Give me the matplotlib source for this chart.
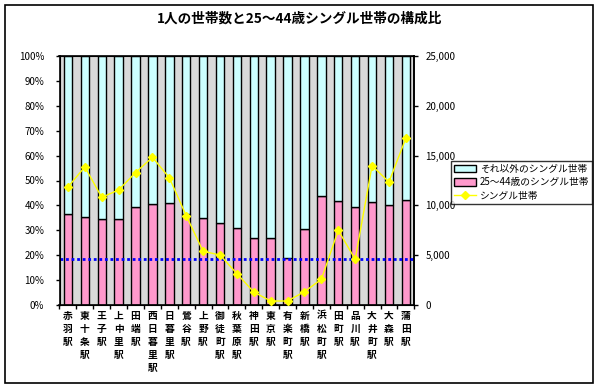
import numpy as np
import matplotlib
matplotlib.use("Agg")
import matplotlib.pyplot as plt
from matplotlib.patches import Rectangle, Patch
from matplotlib.lines import Line2D
from matplotlib.ticker import FuncFormatter, FixedLocator

plt.rcParams['font.family'] = ['Noto Sans CJK JP', 'DejaVu Sans']

stations = ["赤羽駅", "東十条駅", "王子駅", "上中里駅", "田端駅", "西日暮里駅", "日暮里駅",
            "鶯谷駅", "上野駅", "御徒町駅", "秋葉原駅", "神田駅", "東京駅", "有楽町駅",
            "新橋駅", "浜松町駅", "田町駅", "品川駅", "大井町駅", "大森駅", "蒲田駅"]
# share of 25-44 singles (%)
share_2544 = [36.5, 35.2, 34.4, 34.4, 39.2, 40.4, 40.8, 36.5, 34.8, 32.8, 30.8,
              26.8, 26.8, 18.7, 30.4, 43.8, 41.6, 39.2, 41.2, 40.2, 42.0]
# single households (count, right axis)
singles = [11850, 13860, 10810, 11550, 13290, 14830, 12780, 8970, 5390, 5020, 3150,
           1300, 400, 400, 1340, 2580, 7500, 4590, 13990, 12350, 16740]
avg_line = 18.5

PINK = '#FF99CC'
CYAN = '#CCFFFF'

W, H = 599, 387
fig = plt.figure(figsize=(W / 100, H / 100), dpi=100)
fig.patches.append(Rectangle((5 / W, 1 - 383 / H), 588 / W, 378 / H, transform=fig.transFigure,
                             fill=False, edgecolor='black', linewidth=1.2))

ax = fig.add_axes([59.5 / W, 1 - 305 / H, 354.8 / W, 249 / H])
ax.set_facecolor('#d9d9d9')
x = np.arange(len(stations))
rest = [100 - v for v in share_2544]
ax.bar(x, share_2544, width=0.5, color=PINK, edgecolor='black', linewidth=1, zorder=2)
ax.bar(x, rest, width=0.5, bottom=share_2544, color=CYAN, edgecolor='black', linewidth=1, zorder=2)
ax.axhline(avg_line, color='#0000FF', linewidth=2, linestyle=(0, (1, 1)), zorder=4)
ax.set_xlim(-0.5, len(stations) - 0.5)
ax.set_ylim(0, 100)
ax.set_yticks(np.arange(0, 101, 10))
ax.yaxis.set_major_formatter(FuncFormatter(lambda v, p: "%d%%" % v))
ax.set_xticks(x)
ax.set_xticklabels(["\n".join(s) for s in stations], fontsize=7, fontweight='bold', linespacing=1.4)
ax.xaxis.set_minor_locator(FixedLocator(np.arange(-0.5, len(stations), 1)))
ax.tick_params(axis='x', which='major', length=0, pad=4)
ax.tick_params(axis='x', which='minor', length=3, width=1, direction='out')
ax.tick_params(axis='y', labelsize=7, length=3, width=1, direction='out', pad=8)
for s in ax.spines.values():
    s.set_linewidth(1.2)

ax2 = ax.twinx()
ax2.plot(x, singles, color='#FFFF00', marker='D', markersize=4, linewidth=1, zorder=5)
ax2.set_ylim(0, 25000)
ax2.set_yticks(np.arange(0, 25001, 5000))
ax2.yaxis.set_major_formatter(FuncFormatter(lambda v, p: "{:,}".format(int(v))))
ax2.tick_params(axis='y', labelsize=7, length=3, width=1, direction='out', pad=5)
ax2.spines['right'].set_linewidth(1.2)

fig.text(0.5, 1 - 19 / H, "1人の世帯数と25～44歳シングル世帯の構成比", ha='center', va='center',
         fontsize=9.8, fontweight='bold')

handles = [Patch(facecolor=CYAN, edgecolor='black', linewidth=1),
           Patch(facecolor=PINK, edgecolor='black', linewidth=1),
           Line2D([], [], color='#FFFF00', marker='D', markersize=4, linewidth=1)]
labels = ["それ以外のシングル世帯", "25～44歳のシングル世帯", "シングル世帯"]
leg = fig.legend(handles, labels, loc='upper left', bbox_to_anchor=(451 / W, 1 - 161 / H),
                 fontsize=7, frameon=True, fancybox=False, borderpad=0.3, labelspacing=0.35,
                 handlelength=2.3, handleheight=0.8, handletextpad=0.35, borderaxespad=0)
leg.get_frame().set_edgecolor('black')
leg.get_frame().set_linewidth(1)

fig.savefig("out.png", dpi=100)
